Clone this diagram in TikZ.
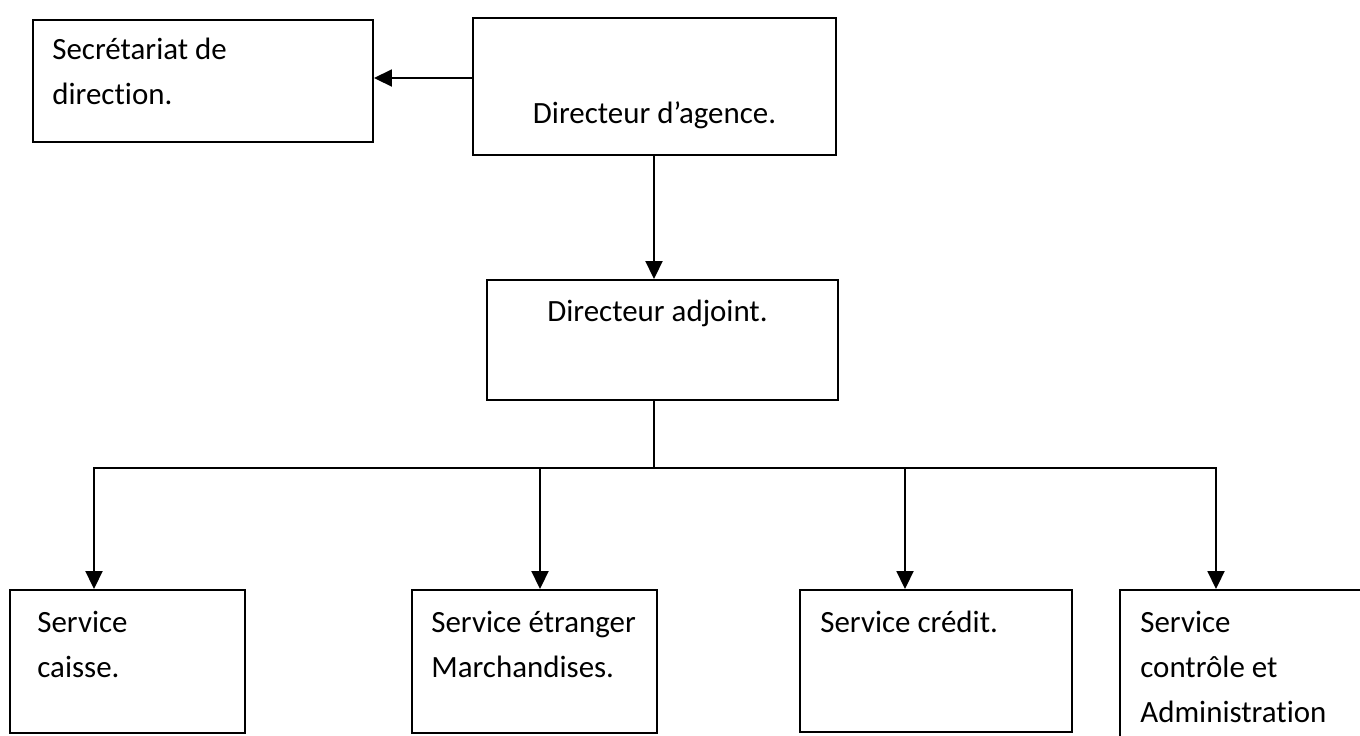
\documentclass[tikz,border=0pt]{standalone}
\usepackage{fontspec}
\setmainfont{Carlito}[Ligatures=NoCommon]
\usetikzlibrary{arrows.meta,fit}

\tikzset{
  box/.style={draw, line width=1.1pt, inner sep=0pt},
  lbl/.style={anchor=north west, align=left, inner sep=0pt},
  arr/.style={line width=1.1pt, -{Triangle[length=0.36cm,width=0.34cm]}},
}

\begin{document}
\begin{tikzpicture}[x=0.02cm, y=-0.02cm, font=\fontsize{17.6}{25.6}\selectfont]
  \clip (0,0) rectangle (1360,735);

  % Direction
  \node[box, fit={(473,18) (836,155)}, label={[yshift=-0.57cm]center:Directeur d’agence.}] (agence) {};
  \node[box, fit={(33,20) (373,142)}, label={[lbl, xshift=0.4cm, yshift=-0.38cm]north west:Secrétariat de\\direction.}] (secr) {};
  \node[box, fit={(487,280) (838,400)}, label={[xshift=-0.1cm, yshift=0.54cm]center:Directeur adjoint.}] (adjoint) {};

  % Services
  \node[box, fit={(10,590) (245,733)}, label={[lbl, xshift=0.56cm, yshift=-0.44cm]north west:Service\\caisse.}] (caisse) {};
  \node[box, fit={(412,590) (657,733)}, label={[lbl, xshift=0.4cm, yshift=-0.44cm]north west:Service étranger\\Marchandises.}] (etranger) {};
  \node[box, fit={(800,590) (1072,732)}, label={[lbl, xshift=0.42cm, yshift=-0.44cm]north west:Service crédit.}] (credit) {};
  \node[box, fit={(1120,590) (1400,780)}, label={[lbl, xshift=0.42cm, yshift=-0.44cm]north west:Service\\contrôle et\\Administration}] (controle) {};

  % Liaisons
  \draw[arr] (agence.west |- 0,78) -- (secr.east |- 0,78);
  \draw[arr] (agence.south -| 654,0) -- (adjoint.north -| 654,0);
  \coordinate (bus) at (654,468);
  \draw[line width=1.1pt] (adjoint.south -| bus) -- (bus);
  \foreach \n/\x in {caisse/94, etranger/540, credit/905, controle/1216}
    \draw[arr] (bus) -| (\n.north -| \x,0);
\end{tikzpicture}
\end{document}
